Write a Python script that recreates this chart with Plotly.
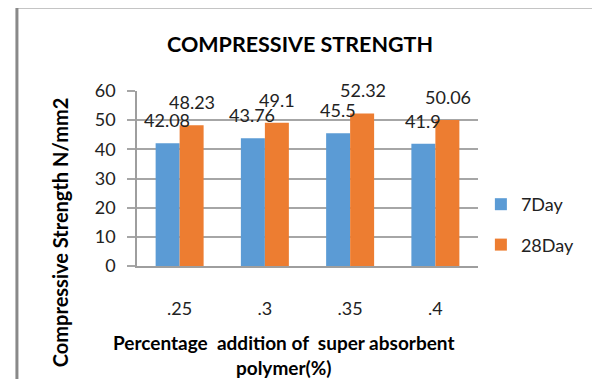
import plotly.graph_objects as go

categories = [".25", ".3", ".35", ".4"]
day7 = [42.08, 43.76, 45.5, 41.9]
day28 = [48.23, 49.1, 52.32, 50.06]
series_names = ["7Day", "28Day"]
colors = ["#5B9BD5", "#ED7D31"]
y_ticks = [0, 10, 20, 30, 40, 50, 60]

FONT = "Lato, Calibri, Carlito, sans-serif"
OFF = 8  # browser default body margin
W, H = 600 - 2 * OFF, 387 - 2 * OFF
# target plot area in page pixels: x 137..492, y 91..266
L, T = 137 - OFF, 91 - OFF
R = W - (492 - OFF)
B = H - (266 - OFF)
pw, ph = W - L - R, H - T - B


def px(xp):
    return (xp - 137) / pw


def py(yp):
    return (266 - yp) / ph


fig = go.Figure()
for name, vals, col in zip(series_names, [day7, day28], colors):
    fig.add_trace(go.Bar(
        x=list(range(len(categories))), y=vals, name=name,
        marker=dict(color=col, line=dict(width=0)),
        legendgroup=name,
    ))

annotations = []
for vals, shift in [(day7, -12.5), (day28, 12.5)]:
    for i, v in enumerate(vals):
        annotations.append(dict(
            x=i, y=v, xref="x", yref="y", text=str(v), showarrow=False,
            xshift=shift, yshift=23, yanchor="middle",
            font=dict(family=FONT, size=18, color="#222222"),
        ))

annotations.append(dict(
    x=px(307), y=py(44), xref="paper", yref="paper",
    text="<b>COMPRESSIVE STRENGTH</b>", showarrow=False, yanchor="middle",
    font=dict(family=FONT, size=21.5, color="#000000"),
))
annotations.append(dict(
    x=px(289), y=py(355), xref="paper", yref="paper",
    text="<b>Percentage  addition of  super absorbent<br>polymer(%)</b>", showarrow=False,
    yanchor="middle", font=dict(family=FONT, size=19, color="#000000"),
))
annotations.append(dict(
    x=px(57), y=py(233), xref="paper", yref="paper",
    text="<b>Compressive Strength N/mm2</b>", showarrow=False, textangle=-90,
    xanchor="center", yanchor="middle",
    font=dict(family=FONT, size=20, color="#000000"),
))

fig.update_layout(
    width=W, height=H,
    margin=dict(l=L, r=R, t=T, b=B),
    paper_bgcolor="white", plot_bgcolor="white",
    barmode="group", bargap=0.437, bargroupgap=0,
    font=dict(family=FONT, size=18, color="#222222"),
    showlegend=True,
    legend=dict(
        x=px(495), y=py(186), xanchor="left", yanchor="top",
        font=dict(family=FONT, size=18, color="#222222"),
        tracegroupgap=14, itemwidth=30, bgcolor="rgba(0,0,0,0)",
    ),
    annotations=annotations,
    shapes=[dict(
        type="rect", xref="paper", yref="paper",
        x0=px(12), x1=px(650), y0=py(430), y1=py(7),
        line=dict(color="#898989", width=3), fillcolor="rgba(0,0,0,0)", layer="below",
    )],
)
fig.update_xaxes(
    tickmode="array", tickvals=list(range(len(categories))), ticktext=categories,
    range=[-0.5, len(categories) - 0.5],
    showline=True, linecolor="#9e9e9e", linewidth=1.5,
    showgrid=False, ticks="", ticklabelstandoff=26, zeroline=False,
    tickfont=dict(family=FONT, size=18, color="#222222"),
)
fig.update_yaxes(
    range=[0, 60], tickvals=y_ticks, showgrid=True, gridcolor="#a6a6a6", gridwidth=1.5,
    showline=True, linecolor="#9e9e9e", linewidth=1.5,
    ticks="outside", ticklen=8, tickcolor="#a6a6a6", tickwidth=1.5,
    zeroline=False, ticklabelstandoff=8,
    tickfont=dict(family=FONT, size=18, color="#222222"),
)

fig.write_html("out.html")
